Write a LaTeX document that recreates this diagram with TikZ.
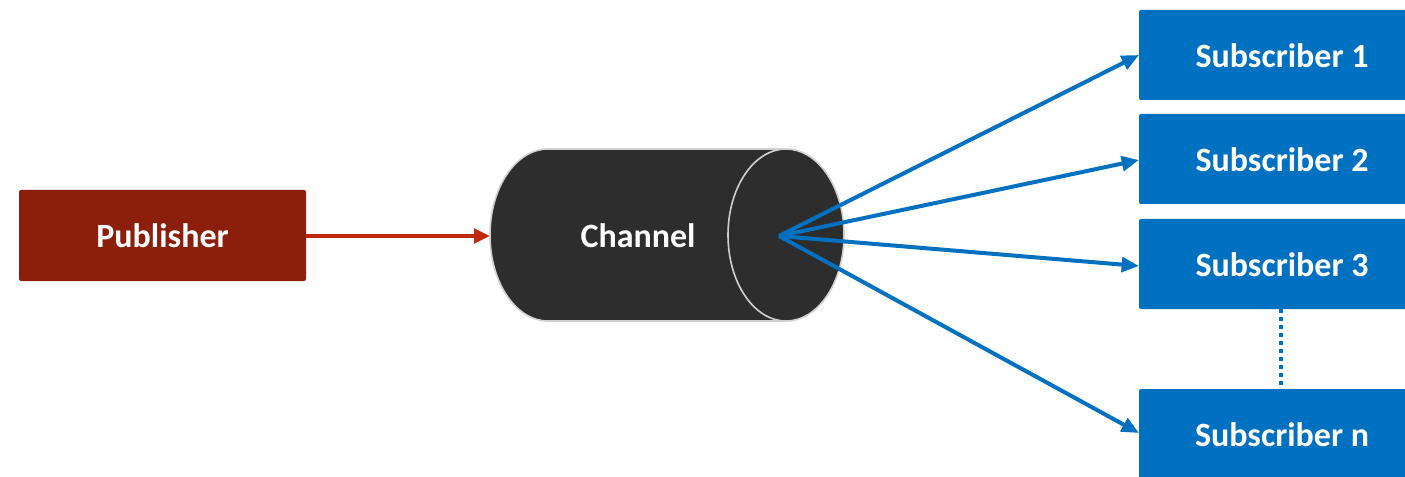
\documentclass[tikz,border=0pt]{standalone}
\usepackage{fontspec}
\setmainfont{Carlito}
\usetikzlibrary{arrows.meta}
\definecolor{pubred}{HTML}{8B1F0C}
\definecolor{arrred}{HTML}{C0280E}
\definecolor{subblue}{HTML}{0070C0}
\definecolor{chanfill}{HTML}{2D2D2D}
\definecolor{chanline}{HTML}{D0D0D0}
\begin{document}
\begin{tikzpicture}[x=0.75pt,y=-0.75pt,
  lbl/.style={text=white,font=\fontsize{25.5}{30}\selectfont\bfseries},
  pubbox/.style={fill=pubred,rounded corners=1.5pt,inner sep=0pt},
  subbox/.style={fill=subblue,rounded corners=1.5pt,inner sep=0pt},
  bluearr/.style={draw=subblue,line width=3pt,-{Triangle[length=13pt,width=11pt]}},
  redarr/.style={draw=arrred,line width=2.6pt,-{Triangle[length=12pt,width=11pt]}}]
\clip (0,0) rectangle (1405,477);
\useasboundingbox (0,0) rectangle (1405,477);
% publisher
\path[pubbox] (19,190) rectangle (306,281);
\node[lbl] (pub) at (162.5,235.5) {Publisher};
\coordinate (pubE) at (306,236);
% channel cylinder
\path[fill=chanfill,draw=chanline,line width=1.2pt]
  (548,149) -- (786,149)
  arc[start angle=90,end angle=-90,x radius=43.5pt,y radius=64.5pt]
  -- (548,321)
  arc[start angle=270,end angle=90,x radius=43.5pt,y radius=64.5pt] -- cycle;
\draw[chanline,line width=1.2pt] (786,149)
  arc[start angle=90,end angle=270,x radius=43.5pt,y radius=64.5pt];
\node[lbl] (chan) at (638,236) {Channel};
\coordinate (chanW) at (490,236);
\coordinate (hub) at (779,236);
% subscribers
\path[subbox] (1139,10) rectangle (1425,100);
\path[subbox] (1139,114) rectangle (1425,204);
\path[subbox] (1139,219) rectangle (1425,309);
\path[subbox] (1139,389) rectangle (1425,485);
\node[lbl] (s1) at (1282,56) {Subscriber 1};
\node[lbl] (s2) at (1282,160) {Subscriber 2};
\node[lbl] (s3) at (1282,265) {Subscriber 3};
\node[lbl] (sn) at (1282,435) {Subscriber n};
\coordinate (s1W) at (1139,55);
\coordinate (s2W) at (1139,160);
\coordinate (s3W) at (1139,266);
\coordinate (snW) at (1139,433);
\coordinate (s3S) at (1281,309);
\coordinate (snN) at (1281,389);
% connectors
\draw[redarr] (pubE) -- (chanW);
\draw[bluearr] (hub) -- (s1W);
\draw[bluearr] (hub) -- (s2W);
\draw[bluearr] (hub) -- (s3W);
\draw[bluearr] (hub) -- (snW);
\draw[subblue,line width=3pt,dash pattern=on 3pt off 3pt] (s3S) -- (snN);
\end{tikzpicture}
\end{document}
